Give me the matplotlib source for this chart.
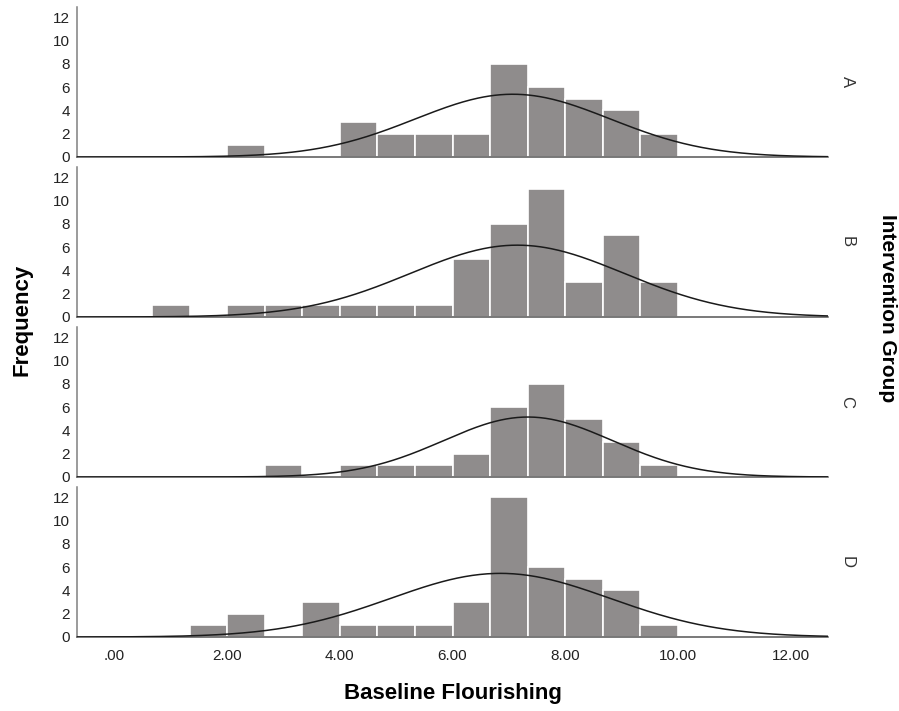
import numpy as np
import matplotlib
matplotlib.use("Agg")
import matplotlib.pyplot as plt

plt.rcParams['font.family'] = ['Liberation Sans', 'DejaVu Sans']

# histogram bins (lower edges), shared by all groups
bin_width = 2 / 3
bin_lo = [2/3, 4/3, 2, 8/3, 10/3, 4, 14/3, 16/3, 6, 20/3, 22/3, 8, 26/3, 28/3]

groups = ['A', 'B', 'C', 'D']
counts_a = [0, 0, 1, 0, 0, 3, 2, 2, 2, 8, 6, 5, 4, 2]
counts_b = [1, 0, 1, 1, 1, 1, 1, 1, 5, 8, 11, 3, 7, 3]
counts_c = [0, 0, 0, 1, 0, 1, 1, 1, 2, 6, 8, 5, 3, 1]
counts_d = [0, 1, 2, 0, 3, 1, 1, 1, 3, 12, 6, 5, 4, 1]
counts = [counts_a, counts_b, counts_c, counts_d]

# normal curve parameters per group
means = [7.07, 7.15, 7.34, 6.85]
sds = [1.73, 1.90, 1.50, 1.95]

xticks = [0, 2, 4, 6, 8, 10, 12]
xticklabels = ['.00', '2.00', '4.00', '6.00', '8.00', '10.00', '12.00']
yticks = [0, 2, 4, 6, 8, 10, 12]

W, H = 899, 711
fig = plt.figure(figsize=(W / 100, H / 100), dpi=100)

left_px, right_px = 77, 828
xmin, xmax = -2/3, 38/3
bar_color = '#8f8c8c'

for i, (g, c, mu, sd) in enumerate(zip(groups, counts, means, sds)):
    top_px = 7 + 160 * i
    ax = fig.add_axes([left_px / W, 1 - (top_px + 150) / H,
                       (right_px - left_px) / W, 150 / H])
    ax.bar(bin_lo, c, width=bin_width, align='edge', color=bar_color,
           edgecolor='white', linewidth=1.2, zorder=2)

    xs = np.linspace(xmin, xmax, 400)
    n = sum(c)
    ys = n * bin_width * np.exp(-0.5 * ((xs - mu) / sd) ** 2) / (sd * np.sqrt(2 * np.pi))
    ax.plot(xs, ys, color='#1a1a1a', linewidth=1.1, zorder=3)

    ax.set_xlim(xmin, xmax)
    ax.set_ylim(0, 12.86)
    ax.set_yticks(yticks)
    ax.tick_params(axis='y', length=0, pad=5, labelsize=11, labelcolor='#222222')
    ax.set_xticks(xticks)
    if i == 3:
        ax.set_xticklabels(xticklabels)
        ax.tick_params(axis='x', length=0, pad=9, labelsize=11, labelcolor='#222222')
    else:
        ax.tick_params(axis='x', length=0, labelbottom=False)

    for s in ['top', 'right']:
        ax.spines[s].set_visible(False)
    ax.spines['left'].set_color('#808080')
    ax.spines['left'].set_linewidth(1.1)
    ax.spines['bottom'].set_color('#555555')
    ax.spines['bottom'].set_linewidth(1.1)
    ax.patch.set_alpha(0)

    fig.text(847 / W, 1 - (top_px + 75) / H, g, rotation=-90,
             ha='center', va='center', fontsize=12, color='#333333')

fig.text(22 / W, 1 - 320 / H, 'Frequency', rotation=90, ha='center',
         va='center', fontsize=16, fontweight='bold')
fig.text(453 / W, 1 - 693 / H, 'Baseline Flourishing', ha='center',
         va='center', fontsize=16, fontweight='bold')
fig.text(888 / W, 1 - 308 / H, 'Intervention Group', rotation=-90,
         ha='center', va='center', fontsize=15, fontweight='bold')

fig.savefig('out.png', dpi=100)
